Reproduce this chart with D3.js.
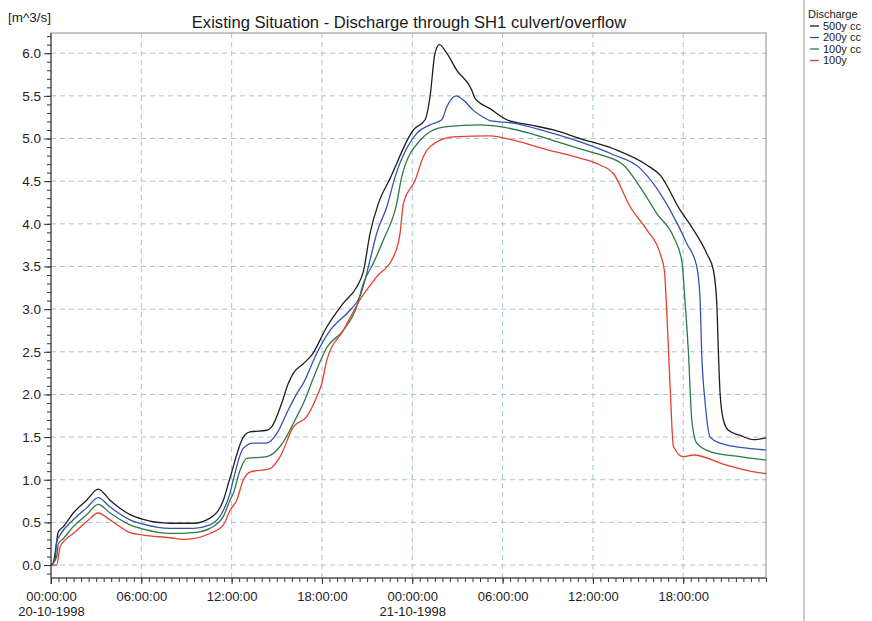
<!DOCTYPE html>
<html>
<head>
<meta charset="utf-8">
<script src="https://cdn.jsdelivr.net/npm/d3@7"></script>
<style>
  body { margin: 0; background: #fff; }
  svg { display: block; font-family: "Liberation Sans", Arial, sans-serif; }
</style>
</head>
<body>
<div id="viz"></div>
<script>
// [hour since 20-10-1998 00:00, discharge m^3/s]
const q500cc = [[0,0],[0.15,0.02],[0.27,0.14],[0.49,0.39],[0.82,0.45],[1.48,0.61],[2.37,0.76],[3.14,0.89],[3.92,0.76],[5.25,0.59],[6.13,0.535],[7.91,0.49],[9.46,0.49],[10.56,0.55],[11.45,0.76],[11.89,1.02],[12.78,1.50],[13.22,1.56],[14.33,1.58],[14.66,1.62],[15.33,1.90],[15.77,2.13],[16.1,2.25],[16.76,2.36],[17.32,2.46],[18.32,2.79],[19.42,3.07],[20.31,3.26],[20.75,3.44],[21.2,3.89],[21.75,4.24],[22.52,4.53],[24.07,5.10],[24.85,5.22],[25.18,5.49],[25.51,6.0],[25.8,6.10],[26.29,6.0],[26.96,5.80],[27.95,5.57],[28.17,5.47],[29.17,5.35],[30.28,5.22],[31.83,5.16],[33.38,5.10],[35.15,5.0],[37.36,4.88],[39.58,4.69],[40.47,4.57],[41.8,4.16],[42.46,3.99],[43.57,3.65],[44.0,3.46],[44.23,3.07],[44.34,2.48],[44.45,2.01],[44.67,1.70],[45.0,1.58],[45.78,1.52],[46.67,1.47],[47.5,1.49]];
const q200cc = [[0,0],[0.27,0.06],[0.38,0.27],[0.6,0.35],[1.48,0.53],[2.37,0.67],[3.14,0.79],[3.92,0.68],[5.25,0.53],[6.13,0.48],[7.91,0.43],[9.46,0.43],[10.56,0.47],[11.45,0.64],[11.89,0.84],[12.11,1.0],[12.78,1.37],[13.44,1.43],[14.33,1.43],[15.0,1.54],[15.66,1.78],[16.33,2.01],[16.76,2.13],[17.65,2.48],[18.54,2.75],[19.87,2.99],[20.53,3.15],[20.86,3.34],[21.2,3.58],[21.64,3.89],[22.31,4.2],[22.86,4.55],[24.3,5.06],[25.18,5.16],[25.96,5.22],[26.29,5.37],[26.91,5.50],[27.4,5.45],[28.06,5.33],[28.72,5.25],[29.17,5.21],[30.72,5.18],[32.94,5.08],[35.15,4.96],[37.36,4.81],[39.14,4.65],[40.02,4.47],[41.13,4.16],[42.24,3.77],[42.9,3.50],[43.12,3.11],[43.23,2.48],[43.46,1.90],[43.79,1.50],[44.45,1.43],[46.23,1.37],[47.5,1.35]];
const q100cc = [[0,0],[0.38,0.10],[0.49,0.25],[0.82,0.31],[1.48,0.45],[2.37,0.59],[3.14,0.71],[3.92,0.61],[5.25,0.47],[6.13,0.42],[7.91,0.37],[9.46,0.38],[10.56,0.43],[11.45,0.57],[11.89,0.76],[12.11,0.84],[12.56,1.11],[13.0,1.25],[14.33,1.27],[15.22,1.39],[16.33,1.74],[16.9,1.95],[17.45,2.2],[18.32,2.55],[19.42,2.75],[20.31,3.03],[20.75,3.30],[21.42,3.54],[22.08,3.81],[22.97,4.24],[23.3,4.55],[24.52,4.98],[25.18,5.08],[26.29,5.14],[28.5,5.16],[29.83,5.14],[31.83,5.06],[34.04,4.94],[35.15,4.88],[36.48,4.81],[38.03,4.69],[39.14,4.43],[40.25,4.12],[41.35,3.85],[41.91,3.56],[42.13,3.07],[42.35,2.48],[42.57,1.70],[42.9,1.43],[43.79,1.33],[45.78,1.27],[47.5,1.23]];
const q100 = [[0,0],[0.38,0],[0.6,0.21],[1.04,0.31],[1.48,0.37],[2.37,0.51],[3.14,0.61],[3.92,0.53],[5.25,0.38],[6.13,0.35],[7.91,0.32],[8.79,0.30],[10.56,0.37],[11.45,0.47],[11.89,0.64],[12.34,0.76],[12.78,1.0],[13.22,1.09],[14.55,1.13],[15.22,1.27],[16.1,1.62],[16.99,1.74],[17.65,1.97],[17.99,2.13],[18.32,2.40],[19.42,2.75],[20.53,3.11],[21.64,3.38],[22.74,3.61],[23.19,3.89],[23.41,4.24],[24.19,4.51],[24.74,4.79],[25.63,4.96],[26.73,5.02],[29.17,5.03],[30.72,4.98],[32.94,4.87],[35.15,4.77],[36.48,4.69],[37.36,4.59],[38.47,4.20],[39.58,3.93],[40.47,3.65],[40.75,3.45],[40.9,3.0],[41.13,2.09],[41.35,1.39],[42.01,1.27],[42.68,1.29],[44.9,1.17],[46.23,1.11],[47.5,1.07]];

const seriesNames = ["500y cc", "200y cc", "100y cc", "100y"];
const seriesColors = ["#1e1e1e", "#3453ae", "#2b7a47", "#e4402f"];
const seriesData = [q500cc, q200cc, q100cc, q100];
const yMajorTicks = [0, 0.5, 1, 1.5, 2, 2.5, 3, 3.5, 4, 4.5, 5, 5.5, 6];

const width = 872, height = 621;
const margin = {top: 33, right: 106, bottom: 43, left: 51};

const start = new Date(Date.UTC(1998, 9, 20));
const end = new Date(Date.UTC(1998, 9, 21, 23, 30));
const toDate = h => new Date(start.getTime() + h * 36e5);

const svg = d3.select("#viz").append("svg")
    .attr("width", width)
    .attr("height", height);

svg.append("rect").attr("width", width).attr("height", height).attr("fill", "#fff");

const x = d3.scaleUtc()
    .domain([start, end])
    .range([margin.left, width - margin.right]);

const y = d3.scaleLinear()
    .domain([-0.152, 6.237])
    .range([height - margin.bottom, margin.top]);

const gridColor = "#a9c3d3";
const majorTimes = d3.utcHour.every(6).range(start, end);

// grid
svg.append("g").selectAll("line")
    .data(yMajorTicks)
    .enter().append("line")
    .attr("x1", margin.left).attr("x2", width - margin.right)
    .attr("y1", d => y(d)).attr("y2", d => y(d))
    .attr("stroke", gridColor)
    .attr("stroke-dasharray", "5,4");

svg.append("g").selectAll("line")
    .data(majorTimes.slice(1))
    .enter().append("line")
    .attr("x1", d => x(d)).attr("x2", d => x(d))
    .attr("y1", margin.top).attr("y2", height - margin.bottom)
    .attr("stroke", gridColor)
    .attr("stroke-dasharray", "5,4");

// frame
svg.append("rect")
    .attr("x", margin.left).attr("y", margin.top)
    .attr("width", width - margin.right - margin.left)
    .attr("height", height - margin.bottom - margin.top)
    .attr("fill", "none")
    .attr("stroke", "#8c8c8c");

// lines
const line = d3.line()
    .curve(d3.curveMonotoneX)
    .x(d => x(toDate(d[0])))
    .y(d => y(d[1]));

svg.append("g").selectAll("path")
    .data(seriesData)
    .enter().append("path")
    .attr("d", line)
    .attr("fill", "none")
    .attr("stroke", (d, i) => seriesColors[i])
    .attr("stroke-width", 1.3)
    .attr("stroke-linejoin", "round");

// y axis
const yMinor = d3.range(-1, 63).map(d => d / 10);
svg.append("g")
    .attr("transform", "translate(" + margin.left + ",0)")
    .call(d3.axisLeft(y).tickValues(yMinor).tickSize(4).tickFormat(""))
    .call(g => g.select(".domain").remove());

const yAxis = svg.append("g")
    .attr("transform", "translate(" + margin.left + ",0)")
    .call(d3.axisLeft(y).tickValues(yMajorTicks).tickSize(7).tickPadding(3).tickFormat(d3.format(".1f")));
yAxis.select(".domain").attr("d", "M0," + margin.top + "V" + (height - margin.bottom + 6));

// x axis
const fmtTime = d3.utcFormat("%H:%M:%S");
const fmtDay = d3.utcFormat("%d-%m-%Y");

svg.append("g")
    .attr("transform", "translate(0," + (height - margin.bottom) + ")")
    .call(d3.axisBottom(x).ticks(d3.utcMinute.every(30)).tickSize(4).tickFormat(""))
    .call(g => g.select(".domain").remove());

const xAxis = svg.append("g")
    .attr("transform", "translate(0," + (height - margin.bottom) + ")")
    .call(d3.axisBottom(x).tickValues(majorTimes).tickSize(6).tickPadding(8).tickFormat(fmtTime));
xAxis.select(".domain").attr("d", "M" + margin.left + ",0H" + (width - margin.right));

xAxis.selectAll(".tick")
    .filter(d => d.getUTCHours() === 0)
    .append("text")
    .attr("fill", "#222")
    .attr("y", 29)
    .attr("dy", "0.71em")
    .text(d => fmtDay(d));

svg.selectAll(".tick text").attr("font-size", 13).attr("fill", "#222")
    .attr("font-family", "'Liberation Sans', Arial, sans-serif");
yAxis.selectAll(".tick text").attr("font-size", 13.5);
svg.selectAll(".tick line, .domain").attr("stroke", "#333");

// titles
svg.append("text")
    .attr("x", 409).attr("y", 28)
    .attr("text-anchor", "middle")
    .attr("font-size", 16.6)
    .attr("fill", "#1a1a1a")
    .text("Existing Situation - Discharge through SH1 culvert/overflow");

svg.append("text")
    .attr("x", 8).attr("y", 22)
    .attr("font-size", 13.5)
    .attr("fill", "#1a1a1a")
    .text("[m^3/s]");

// legend
svg.append("line")
    .attr("x1", 804).attr("x2", 804)
    .attr("y1", 0).attr("y2", height)
    .attr("stroke", "#9a9a9a");

svg.append("text")
    .attr("x", 808).attr("y", 18)
    .attr("font-size", 11)
    .attr("fill", "#1a1a1a")
    .text("Discharge");

const legend = svg.append("g").selectAll("g")
    .data(seriesNames)
    .enter().append("g")
    .attr("transform", (d, i) => "translate(810," + (26 + i * 11.5) + ")");

legend.append("line")
    .attr("x1", 0).attr("x2", 9)
    .attr("stroke", (d, i) => seriesColors[i])
    .attr("stroke-width", 1.3);

legend.append("text")
    .attr("x", 13).attr("dy", "0.35em")
    .attr("font-size", 11)
    .attr("fill", "#1a1a1a")
    .text(d => d);
</script>
</body>
</html>
